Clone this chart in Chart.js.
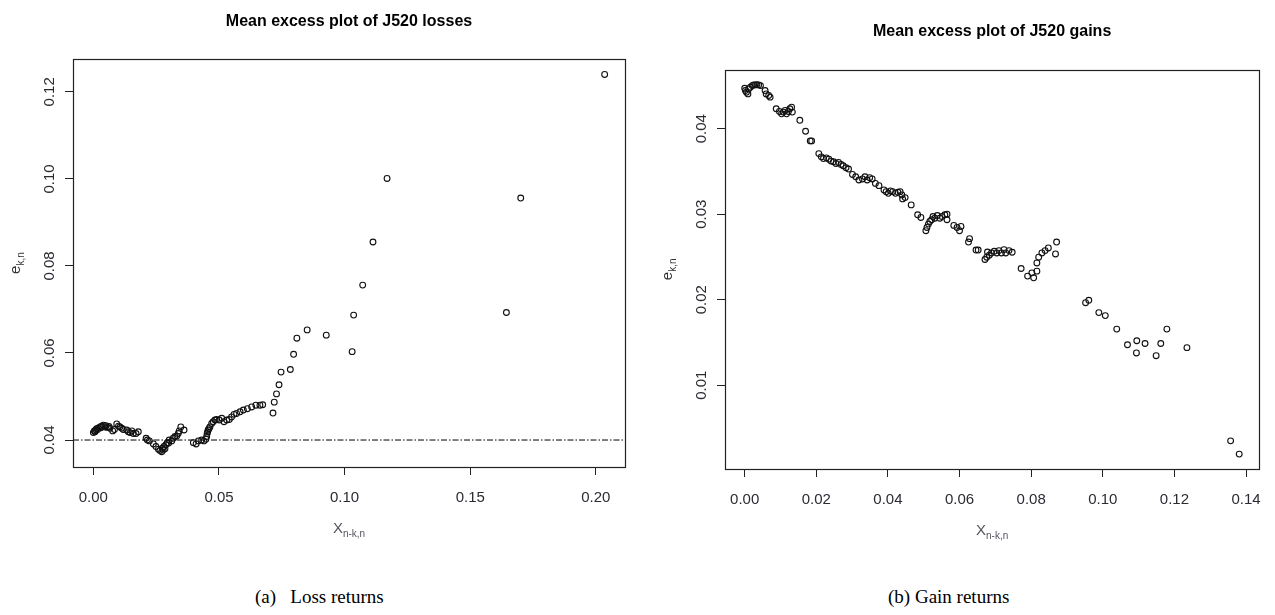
<!DOCTYPE html>
<html>
<head>
<meta charset="utf-8">
<script src="https://cdn.jsdelivr.net/npm/chart.js@4.4.0/dist/chart.umd.min.js"></script>
<style>
  body { margin: 0; background: #fff; width: 1275px; height: 615px; position: relative; overflow: hidden; }
  canvas { position: absolute; top: 0; }
  #lossChart { left: 0; }
  #gainChart { left: 640px; }
  .cap { position: absolute; top: 586px; font-family: 'Liberation Serif', 'Times New Roman', serif; font-size: 19px; color: #000; white-space: pre; }
</style>
</head>
<body>
<canvas id="lossChart" width="640" height="560"></canvas>
<canvas id="gainChart" width="635" height="560"></canvas>
<div class="cap" style="left:255px">(a)   Loss returns</div>
<div class="cap" style="left:888px">(b) Gain returns</div>

<script>
// ===== DATA =====
// losses: threshold X(n-k,n) vs mean excess e(k,n)
const lossX = [0.0000,0.0004,0.0010,0.0013,0.0020,0.0027,0.0033,0.0040,0.0047,0.0056,0.0066,0.0077,0.0084,0.0093,0.0100,0.0106,0.0113,0.0119,0.0133,0.0139,0.0146,0.0153,0.0159,0.0170,0.0179,0.0210,0.0215,0.0223,0.0239,0.0249,0.0259,0.0265,0.0272,0.0278,0.0281,0.0289,0.0294,0.0302,0.0312,0.0318,0.0325,0.0332,0.0338,0.0342,0.0348,0.0361,0.0398,0.0409,0.0418,0.0431,0.0440,0.0448,0.0451,0.0453,0.0457,0.0464,0.0471,0.0477,0.0484,0.0491,0.0501,0.0511,0.0520,0.0531,0.0541,0.0550,0.0560,0.0570,0.0584,0.0597,0.0613,0.0630,0.0647,0.0663,0.0674,0.0715,0.0720,0.0729,0.0739,0.0747,0.0784,0.0797,0.0810,0.0851,0.0927,0.1030,0.1036,0.1072,0.1113,0.1169,0.1644,0.1701,0.2035,
  0.0007,0.0017,0.0030,0.0050,0.0062,0.0275,0.0285,0.0300,0.0455,0.0460];
const lossY = [0.0417,0.0421,0.0423,0.0426,0.0428,0.0430,0.0432,0.0434,0.0430,0.0429,0.0427,0.0421,0.0424,0.0437,0.0432,0.0430,0.0427,0.0424,0.0423,0.0419,0.0417,0.0421,0.0415,0.0415,0.0419,0.0404,0.0400,0.0398,0.0391,0.0385,0.0379,0.0376,0.0373,0.0377,0.0385,0.0389,0.0394,0.0400,0.0398,0.0404,0.0408,0.0409,0.0415,0.0421,0.0430,0.0423,0.0394,0.0391,0.0398,0.0400,0.0398,0.0402,0.0408,0.0415,0.0423,0.0430,0.0438,0.0442,0.0446,0.0447,0.0446,0.0450,0.0442,0.0446,0.0447,0.0453,0.0459,0.0461,0.0465,0.0469,0.0472,0.0476,0.0480,0.0480,0.0481,0.0462,0.0487,0.0506,0.0527,0.0556,0.0562,0.0597,0.0634,0.0653,0.0641,0.0603,0.0687,0.0756,0.0855,0.1001,0.0693,0.0956,0.1240,
  0.0419,0.0424,0.0428,0.0433,0.0431,0.0381,0.0380,0.0393,0.0419,0.0426];
const lossRef = 0.04;   // dot-dash reference line
const lossXTicks = [0, 0.05, 0.10, 0.15, 0.20];
const lossYTicks = [0.04, 0.06, 0.08, 0.10, 0.12];
const lossXRange = [-0.0081, 0.2116];
const lossYRange = [0.0338, 0.1275];

// gains
const gainX = [0.0000,0.0002,0.0005,0.0009,0.0011,0.0016,0.0021,0.0025,0.0030,0.0034,0.0039,0.0044,0.0057,0.0060,0.0067,0.0071,0.0088,0.0097,0.0103,0.0108,0.0113,0.0117,0.0122,0.0126,0.0131,0.0133,0.0154,0.0170,0.0183,0.0187,0.0207,0.0214,0.0220,0.0228,0.0235,0.0241,0.0248,0.0255,0.0262,0.0269,0.0275,0.0283,0.0290,0.0301,0.0310,0.0319,0.0329,0.0336,0.0342,0.0349,0.0356,0.0365,0.0375,0.0389,0.0395,0.0401,0.0407,0.0413,0.0421,0.0428,0.0434,0.0439,0.0441,0.0448,0.0465,0.0483,0.0492,0.0506,0.0509,0.0513,0.0517,0.0522,0.0526,0.0531,0.0538,0.0545,0.0551,0.0559,0.0565,0.0565,0.0584,0.0593,0.0600,0.0604,0.0625,0.0628,0.0646,0.0652,0.0671,0.0676,0.0678,0.0683,0.0689,0.0697,0.0704,0.0710,0.0717,0.0724,0.0729,0.0738,0.0747,0.0772,0.0790,0.0802,0.0807,0.0816,0.0816,0.0821,0.0830,0.0839,0.0848,0.0871,0.0868,0.0952,0.0961,0.0989,0.1007,0.1039,0.1069,0.1095,0.1094,0.1118,0.1149,0.1162,0.1179,0.1235,0.1357,0.1381];
const gainY = [0.04473,0.04446,0.04427,0.04407,0.04465,0.04485,0.04504,0.04512,0.04512,0.04516,0.04512,0.04504,0.04446,0.04407,0.04388,0.04369,0.04233,0.04202,0.04174,0.04194,0.04214,0.04174,0.04202,0.04233,0.04252,0.04194,0.04098,0.03970,0.03857,0.03857,0.03709,0.03671,0.03651,0.03659,0.03644,0.03621,0.03613,0.03593,0.03605,0.03581,0.03566,0.03543,0.03528,0.03465,0.03438,0.03400,0.03412,0.03438,0.03400,0.03427,0.03412,0.03360,0.03334,0.03284,0.03264,0.03244,0.03272,0.03264,0.03244,0.03256,0.03264,0.03226,0.03179,0.03194,0.03109,0.02993,0.02962,0.02807,0.02845,0.02884,0.02915,0.02935,0.02973,0.02953,0.02985,0.02953,0.02973,0.02993,0.03000,0.02935,0.02869,0.02845,0.02807,0.02857,0.02674,0.02714,0.02581,0.02581,0.02470,0.02497,0.02558,0.02520,0.02547,0.02566,0.02547,0.02574,0.02547,0.02586,0.02547,0.02574,0.02555,0.02365,0.02276,0.02314,0.02256,0.02334,0.02430,0.02497,0.02547,0.02574,0.02605,0.02674,0.02535,0.01965,0.01993,0.01849,0.01814,0.01656,0.01473,0.01520,0.01377,0.01488,0.01345,0.01488,0.01656,0.01439,0.00349,0.00194];
const gainXTicks = [0, 0.02, 0.04, 0.06, 0.08, 0.10, 0.12, 0.14];
const gainYTicks = [0.01, 0.02, 0.03, 0.04];
const gainXRange = [-0.0055, 0.1437];
const gainYRange = [0.0002, 0.0469];

// ===== HELPERS =====
const tickFont = { family: 'Liberation Sans', size: 15 };
const labelColor = '#2b2b33';

// text with a subscript, centred on (x, y), optionally rotated
function drawSubText(ctx, main, sub, x, y, rot, color) {
  ctx.save();
  ctx.translate(x, y);
  if (rot) ctx.rotate(rot);
  ctx.fillStyle = color;
  ctx.textBaseline = 'middle';
  ctx.textAlign = 'left';
  ctx.font = '15px "Liberation Sans"';
  const w1 = ctx.measureText(main).width;
  ctx.font = '10px "Liberation Sans"';
  const w2 = ctx.measureText(sub).width;
  const x0 = -(w1 + w2) / 2;
  ctx.font = '15px "Liberation Sans"';
  ctx.fillText(main, x0, 0);
  ctx.font = '10px "Liberation Sans"';
  ctx.fillText(sub, x0 + w1, 5);
  ctx.restore();
}

const framePlugin = {
  id: 'frame',
  afterDraw(chart) {
    const { ctx, chartArea: a } = chart;
    ctx.save();
    ctx.strokeStyle = '#222';
    ctx.lineWidth = 1.2;
    ctx.strokeRect(Math.round(a.left) + 0.5, Math.round(a.top) + 0.5,
      Math.round(a.right - a.left), Math.round(a.bottom - a.top));

    // rotated y tick labels, R style
    const ys = chart.scales.y;
    ctx.fillStyle = labelColor;
    ctx.font = '15px "Liberation Sans"';
    ctx.textAlign = 'center';
    ctx.textBaseline = 'middle';
    ys.ticks.forEach(t => {
      const py = ys.getPixelForValue(t.value);
      ctx.save();
      ctx.translate(a.left - 23, py);
      ctx.rotate(-Math.PI / 2);
      ctx.fillText(t.value.toFixed(2), 0, 0);
      ctx.restore();
    });
    ctx.restore();

    drawSubText(ctx, 'X', 'n-k,n', (a.left + a.right) / 2, a.bottom + 62, 0, '#555560');
    drawSubText(ctx, 'e', 'k,n', a.left - 57, (a.top + a.bottom) / 2, -Math.PI / 2, '#333');
  }
};

function makeChart(id, title, xs, ys, xTicks, yTicks, xRange, yRange, pad, titlePad, refY) {
  const datasets = [{
    data: xs.map((x, i) => ({ x: x, y: ys[i] })),
    pointStyle: 'circle',
    pointRadius: 2.9,
    pointBorderWidth: 1.1,
    pointBorderColor: '#111',
    pointBackgroundColor: 'rgba(0,0,0,0)',
    order: 1
  }];
  if (refY !== undefined) {
    datasets.push({
      type: 'line',
      data: [{ x: xRange[0], y: refY }, { x: xRange[1], y: refY }],
      borderColor: '#000',
      borderWidth: 1,
      borderDash: [6, 2, 1.5, 2],
      pointRadius: 0,
      showLine: true,
      order: 2
    });
  }
  return new Chart(document.getElementById(id), {
    type: 'scatter',
    data: { datasets },
    plugins: [framePlugin],
    options: {
      responsive: false,
      animation: false,
      events: [],
      layout: { padding: pad },
      plugins: {
        legend: { display: false },
        tooltip: { enabled: false },
        title: {
          display: true,
          text: title,
          fullSize: false,
          color: '#000',
          font: { family: 'Liberation Sans', size: 16, weight: 'bold', lineHeight: 1.2 },
          padding: titlePad
        }
      },
      scales: {
        x: {
          type: 'linear',
          min: xRange[0], max: xRange[1],
          afterBuildTicks: s => { s.ticks = xTicks.map(v => ({ value: v })); },
          afterFit: s => { s.height = 70; },
          grid: { drawOnChartArea: false, color: '#222', tickLength: 8 },
          border: { display: false },
          ticks: {
            autoSkip: false, maxRotation: 0, padding: 14,
            color: labelColor, font: tickFont,
            callback: v => Number(v).toFixed(2)
          }
        },
        y: {
          type: 'linear',
          min: yRange[0], max: yRange[1],
          afterBuildTicks: s => { s.ticks = yTicks.map(v => ({ value: v })); },
          afterFit: s => { s.width = 40; },
          grid: { drawOnChartArea: false, color: '#222', tickLength: 8 },
          border: { display: false },
          ticks: { display: false }
        }
      }
    }
  });
}

makeChart('lossChart', 'Mean excess plot of J520 losses', lossX, lossY,
  lossXTicks, lossYTicks, lossXRange, lossYRange,
  { left: 33, right: 15, top: 0, bottom: 23 }, { top: 12, bottom: 28 }, lossRef);

makeChart('gainChart', 'Mean excess plot of J520 gains', gainX, gainY,
  gainXTicks, gainYTicks, gainXRange, gainYRange,
  { left: 45, right: 10, top: 0, bottom: 21 }, { top: 22, bottom: 28.5 });
</script>
</body>
</html>
